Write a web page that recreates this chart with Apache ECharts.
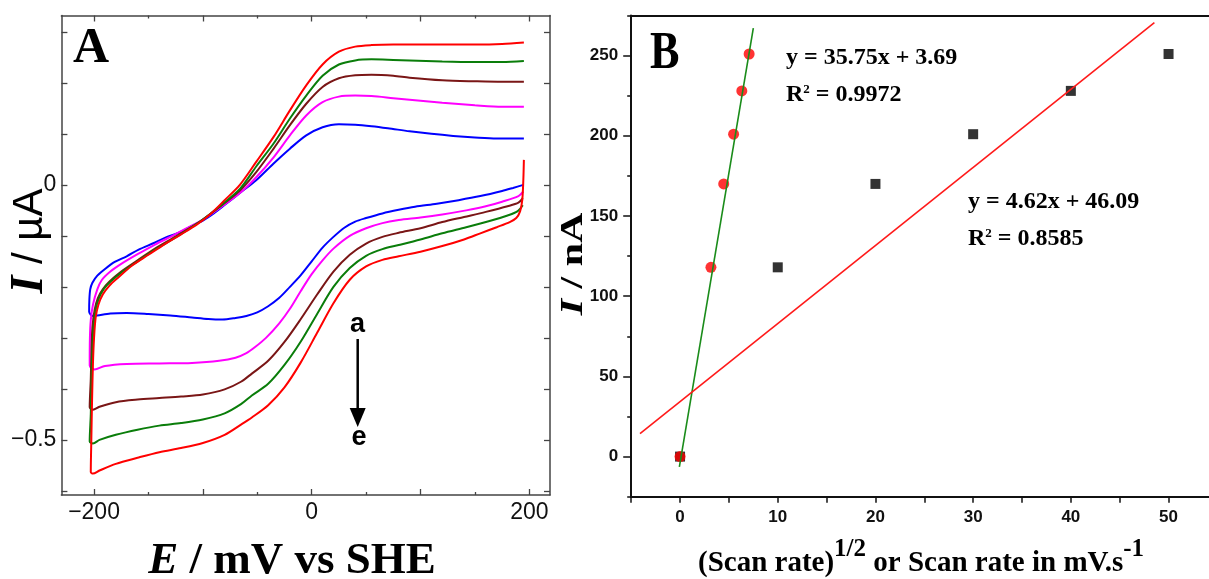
<!DOCTYPE html>
<html>
<head>
<meta charset="utf-8">
<script src="https://cdn.jsdelivr.net/npm/echarts@6/dist/echarts.min.js"></script>
<style>html,body{margin:0;padding:0;background:#fff;}#chart{width:1209px;height:579px;}</style>
</head>
<body>
<div id="chart"></div>
<script>
// ---------- Panel A : cyclic voltammograms (E in mV, I in µA) ----------
const curveA = [[194.5,0.000],[185,-0.006],[175,-0.012],[155,-0.022],[135,-0.030],[115,-0.037],[95,-0.043],[80,-0.049],[65,-0.056],[50,-0.065],[40,-0.072],[30,-0.084],[20,-0.102],[10,-0.123],[0,-0.150],[-10,-0.177],[-20,-0.200],[-30,-0.222],[-40,-0.238],[-50,-0.250],[-60,-0.257],[-70,-0.261],[-82,-0.264],[-95,-0.263],[-110,-0.260],[-130,-0.256],[-150,-0.253],[-170,-0.251],[-185,-0.252],[-197,-0.256],[-201,-0.257],
  [-204.5,-0.249],[-204.3,-0.225],[-203.5,-0.205],[-201.5,-0.192],[-197,-0.178],[-190,-0.165],[-181,-0.151],[-170,-0.140],[-159,-0.127],[-145,-0.114],[-135,-0.104],[-120,-0.092],[-107,-0.077],[-100,-0.070],[-90,-0.056],[-78,-0.036],[-66,-0.016],[-51,0.009],[-35,0.042],[-20,0.071],[-5,0.097],[10,0.113],[25,0.119],[40,0.118],[55,0.115],[70,0.111],[90,0.105],[110,0.100],[130,0.096],[150,0.093],[170,0.091],[195,0.091]];
const curveB = [[194.5,-0.013],[190,-0.022],[175,-0.033],[160,-0.042],[142,-0.050],[120,-0.058],[100,-0.064],[80,-0.069],[65,-0.075],[50,-0.085],[35,-0.100],[20,-0.125],[10,-0.148],[0,-0.175],[-10,-0.208],[-20,-0.243],[-30,-0.272],[-42,-0.300],[-52,-0.318],[-60,-0.330],[-70,-0.339],[-85,-0.345],[-110,-0.349],[-140,-0.350],[-170,-0.351],[-190,-0.355],[-199.5,-0.362],
  [-204,-0.354],[-203.8,-0.300],[-203,-0.265],[-201,-0.235],[-197,-0.205],[-193,-0.187],[-185,-0.170],[-175,-0.155],[-160,-0.136],[-144,-0.117],[-128,-0.100],[-113,-0.083],[-100,-0.068],[-83,-0.043],[-66,-0.016],[-51,0.015],[-35,0.054],[-20,0.097],[-5,0.136],[10,0.162],[25,0.173],[40,0.175],[55,0.174],[75,0.170],[90,0.167],[120,0.161],[150,0.156],[175,0.153],[195,0.153]];
const curveC = [[194,-0.026],[190,-0.035],[180,-0.042],[160,-0.053],[140,-0.063],[120,-0.073],[100,-0.085],[80,-0.094],[65,-0.102],[50,-0.115],[35,-0.137],[20,-0.170],[5,-0.215],[-10,-0.263],[-25,-0.308],[-40,-0.345],[-55,-0.370],[-65,-0.386],[-80,-0.401],[-100,-0.411],[-120,-0.415],[-140,-0.418],[-160,-0.421],[-180,-0.426],[-195,-0.435],[-201,-0.441],
  [-204,-0.436],[-203,-0.380],[-202.3,-0.320],[-201.5,-0.280],[-199.5,-0.245],[-196.5,-0.222],[-192,-0.205],[-186,-0.190],[-175,-0.170],[-160,-0.148],[-144,-0.125],[-128,-0.105],[-113,-0.086],[-100,-0.068],[-85,-0.044],[-66,-0.011],[-51,0.025],[-35,0.071],[-20,0.117],[-5,0.159],[10,0.192],[25,0.209],[40,0.215],[55,0.216],[75,0.214],[90,0.210],[120,0.205],[150,0.203],[175,0.202],[195,0.202]];
const curveD = [[194,-0.040],[189,-0.052],[180,-0.060],[165,-0.070],[142,-0.083],[120,-0.095],[100,-0.107],[80,-0.118],[65,-0.126],[50,-0.139],[35,-0.163],[20,-0.200],[5,-0.253],[-10,-0.307],[-25,-0.353],[-40,-0.390],[-55,-0.413],[-65,-0.430],[-80,-0.448],[-100,-0.460],[-120,-0.467],[-140,-0.472],[-160,-0.480],[-180,-0.490],[-195,-0.500],[-201,-0.507],
  [-204,-0.503],[-203,-0.450],[-202.3,-0.380],[-201.5,-0.320],[-200.5,-0.280],[-198.5,-0.245],[-195.5,-0.222],[-191,-0.204],[-185,-0.190],[-175,-0.172],[-160,-0.150],[-144,-0.127],[-128,-0.107],[-113,-0.087],[-100,-0.068],[-85,-0.043],[-66,-0.008],[-51,0.036],[-35,0.081],[-20,0.130],[-5,0.175],[10,0.214],[25,0.236],[40,0.244],[55,0.246],[75,0.245],[90,0.244],[120,0.242],[150,0.241],[175,0.241],[195,0.243]];
const curveE = [[195,0.049],[194.5,0.010],[193.5,-0.030],[191.5,-0.052],[188,-0.065],[182,-0.073],[170,-0.083],[155,-0.095],[140,-0.107],[120,-0.120],[100,-0.131],[80,-0.140],[65,-0.147],[50,-0.160],[35,-0.186],[20,-0.232],[5,-0.290],[-10,-0.348],[-25,-0.397],[-40,-0.432],[-55,-0.456],[-65,-0.470],[-80,-0.490],[-100,-0.506],[-120,-0.516],[-140,-0.524],[-160,-0.535],[-180,-0.547],[-195,-0.560],[-201,-0.566],
  [-203,-0.563],[-202.5,-0.500],[-201.8,-0.420],[-201,-0.350],[-200,-0.300],[-198.5,-0.260],[-196,-0.235],[-192,-0.215],[-186,-0.198],[-178,-0.182],[-165,-0.158],[-150,-0.137],[-135,-0.116],[-120,-0.097],[-105,-0.077],[-92,-0.055],[-80,-0.030],[-66,0.000],[-51,0.045],[-35,0.094],[-20,0.146],[-5,0.195],[10,0.236],[25,0.261],[40,0.271],[55,0.274],[75,0.275],[100,0.275],[125,0.275],[150,0.275],[175,0.276],[195,0.279]];
const curveNames = ['a', 'b', 'c', 'd', 'e'];
const curveColors = ['#0000ff', '#ff00ff', '#7a1616', '#0a7d0a', '#ff0000'];

const xMajorTicksA = [-200, -100, 0, 100, 200];
const xMinorTicksA = [-150, -50, 50, 150];
const xLabelsA = [-200, 0, 200];
const yTicksA = [-0.6, -0.5, -0.4, -0.3, -0.2, -0.1, 0, 0.1, 0.2, 0.3];
const yLabelsA = [-0.5, 0];

// ---------- Panel B : peak current vs scan rate ----------
const sqrtScanRate = [0, 3.16, 4.47, 5.48, 6.32, 7.07];
const scanRate = [0, 10, 20, 30, 40, 50];
const peakCurrent = [0, 118, 170, 201, 228, 251];
const fitSqrtX = [-0.07, 7.5];
const fitSqrtY = [-6.4, 267.2];
const fitLinX = [-4.1, 48.55];
const fitLinY = [14.3, 270.6];
const xTicksB = [-5, 0, 5, 10, 15, 20, 25, 30, 35, 40, 45, 50, 55];
const xLabelsB = [0, 10, 20, 30, 40, 50];
const yMajorB = [0, 50, 100, 150, 200, 250];
const yMinorB = [-25, 25, 75, 125, 175, 225, 275];

// ---------- fonts ----------
const SERIF = "'Liberation Serif', 'Times New Roman', serif";
const SANS = "'Liberation Sans', Arial, sans-serif";
const NARROW = "'Liberation Sans Narrow', 'Liberation Sans', Arial, sans-serif";
const fmtMinus = v => (v < 0 ? '\u2212' + String(Math.abs(v)) : String(v));

const chart = echarts.init(document.getElementById('chart'), null, { renderer: 'canvas' });

const frameA = { show: true, onZero: false, lineStyle: { color: '#444', width: 1.5 } };
const noLine = { show: false, onZero: false };
const frameB = { show: true, onZero: false, lineStyle: { color: '#111', width: 2 } };
const hideLbl = { show: false };
const tickA = { color: '#444', width: 1.3 };
const tickB = { color: '#111', width: 1.5 };

const option = {
  backgroundColor: '#ffffff',
  animation: false,
  grid: [
    { left: 61.4, top: 15.5, width: 488.6, height: 479.5, outerBoundsMode: 'none' },
    { left: 631.2, top: 15.5, width: 586.2, height: 481.2, outerBoundsMode: 'none' }
  ],
  xAxis: [
    { gridIndex: 0, type: 'value', position: 'bottom', min: -230, max: 219, axisLine: frameA,
      axisTick: { inside: true, length: 6, customValues: xMajorTicksA, lineStyle: tickA },
      axisLabel: { customValues: xLabelsA, formatter: fmtMinus, fontSize: 23, fontFamily: SANS, color: '#111', margin: 6 },
      splitLine: { show: false } },
    { gridIndex: 0, type: 'value', position: 'bottom', min: -230, max: 219, axisLine: noLine,
      axisTick: { inside: true, length: 3, customValues: xMinorTicksA, lineStyle: tickA },
      axisLabel: hideLbl, splitLine: { show: false } },
    { gridIndex: 0, type: 'value', position: 'top', min: -230, max: 219, axisLine: frameA,
      axisTick: { inside: true, length: 6, customValues: xMajorTicksA, lineStyle: tickA },
      axisLabel: hideLbl, splitLine: { show: false } },
    { gridIndex: 0, type: 'value', position: 'top', min: -230, max: 219, axisLine: noLine,
      axisTick: { inside: true, length: 3, customValues: xMinorTicksA, lineStyle: tickA },
      axisLabel: hideLbl, splitLine: { show: false } },
    { gridIndex: 1, type: 'value', position: 'bottom', min: -5, max: 55, axisLine: frameB,
      axisTick: { inside: false, length: 6, customValues: xTicksB, lineStyle: tickB },
      axisLabel: { customValues: xLabelsB, fontSize: 17, fontWeight: 'bold', fontFamily: NARROW, color: '#111', margin: 12 },
      splitLine: { show: false } },
    { gridIndex: 1, type: 'value', position: 'top', min: -5, max: 55, axisLine: frameB,
      axisTick: { show: false }, axisLabel: hideLbl, splitLine: { show: false } }
  ],
  yAxis: [
    { gridIndex: 0, type: 'value', position: 'left', min: -0.608, max: 0.332, axisLine: frameA,
      axisTick: { inside: true, length: 6, customValues: yTicksA, lineStyle: tickA },
      axisLabel: { customValues: yLabelsA, formatter: fmtMinus, fontSize: 23, fontFamily: SANS, color: '#111', margin: 5 },
      splitLine: { show: false } },
    { gridIndex: 0, type: 'value', position: 'right', min: -0.608, max: 0.332, axisLine: frameA,
      axisTick: { inside: true, length: 6, customValues: yTicksA, lineStyle: tickA },
      axisLabel: hideLbl, splitLine: { show: false } },
    { gridIndex: 1, type: 'value', position: 'left', min: -25, max: 275, axisLine: frameB,
      axisTick: { inside: false, length: 8, customValues: yMajorB, lineStyle: tickB },
      axisLabel: { customValues: yMajorB, fontSize: 17, fontWeight: 'bold', fontFamily: NARROW, color: '#111', margin: 13 },
      splitLine: { show: false } },
    { gridIndex: 1, type: 'value', position: 'left', min: -25, max: 275, axisLine: noLine,
      axisTick: { inside: false, length: 4, customValues: yMinorB, lineStyle: tickB },
      axisLabel: hideLbl, splitLine: { show: false } }
  ],
  series: [],
  graphic: []
};

const curves = [curveA, curveB, curveC, curveD, curveE];
curves.forEach((c, i) => {
  option.series.push({
    name: curveNames[i], type: 'line', xAxisIndex: 0, yAxisIndex: 0,
    data: c, showSymbol: false, smooth: 0.3, clip: true,
    lineStyle: { color: curveColors[i], width: 2 }, z: 2 + i
  });
});

option.series.push({
  name: 'scan rate', type: 'scatter', xAxisIndex: 4, yAxisIndex: 2,
  data: scanRate.map((x, i) => [x, peakCurrent[i]]),
  symbol: 'rect', symbolSize: 10, itemStyle: { color: '#000' }, z: 3
});
option.series.push({
  name: 'sqrt scan rate', type: 'scatter', xAxisIndex: 4, yAxisIndex: 2,
  data: sqrtScanRate.map((x, i) => [x, peakCurrent[i]]),
  symbol: 'circle', symbolSize: 11, itemStyle: { color: '#ff0000' }, z: 4
});
option.series.push({
  name: 'fit sqrt', type: 'line', xAxisIndex: 4, yAxisIndex: 2,
  data: fitSqrtX.map((x, i) => [x, fitSqrtY[i]]), showSymbol: false,
  lineStyle: { color: '#1a8c1a', width: 1.6 }, z: 5
});
option.series.push({
  name: 'fit linear', type: 'line', xAxisIndex: 4, yAxisIndex: 2,
  data: fitLinX.map((x, i) => [x, fitLinY[i]]), showSymbol: false,
  lineStyle: { color: '#ff1a1a', width: 1.6 }, z: 5
});

function txt(x, y, style, extra) {
  return Object.assign({ type: 'text', x: x, y: y, silent: true, z: 100,
    style: Object.assign({ fill: '#000' }, style) }, extra || {});
}

option.graphic = [
  // panel letters
  txt(73, 49, { text: 'A', fontSize: 50, fontWeight: 'bold', fontFamily: SERIF, align: 'left', verticalAlign: 'middle' }),
  txt(650, 55, { text: 'B', fontSize: 52, fontWeight: 'bold', fontFamily: SERIF, align: 'left', verticalAlign: 'middle' }, { scaleX: 0.85 }),
  // axis titles panel A
  txt(292, 561, {
    text: '{i|E}{n| / mV vs SHE}', align: 'center', verticalAlign: 'middle',
    rich: { i: { fontSize: 45, fontWeight: 'bold', fontStyle: 'italic', fontFamily: SERIF },
            n: { fontSize: 45, fontWeight: 'bold', fontFamily: SERIF } }
  }),
  txt(30, 241, {
    text: '{i|I}{n| / µA}', align: 'center', verticalAlign: 'middle',
    rich: { i: { fontSize: 46, fontWeight: 'bold', fontStyle: 'italic', fontFamily: SERIF },
            n: { fontSize: 42, fontFamily: SANS } }
  }, { rotation: Math.PI / 2 }),
  // a -> e annotation
  txt(357.5, 325, { text: 'a', fontSize: 27, fontWeight: 'bold', fontFamily: SANS, align: 'center', verticalAlign: 'middle' }),
  { type: 'line', silent: true, z: 100, shape: { x1: 357.7, y1: 339, x2: 357.7, y2: 411 }, style: { stroke: '#000', lineWidth: 2.5 } },
  { type: 'polygon', silent: true, z: 100, shape: { points: [[349.7, 408], [365.7, 408], [357.7, 427]] }, style: { fill: '#000' } },
  txt(359, 438, { text: 'e', fontSize: 27, fontWeight: 'bold', fontFamily: SANS, align: 'center', verticalAlign: 'middle' }),
  // panel B titles
  txt(574, 264, {
    text: '{i|I}{n| / nA}', align: 'center', verticalAlign: 'middle',
    rich: { i: { fontSize: 42, fontWeight: 'bold', fontStyle: 'italic', fontFamily: SERIF },
            n: { fontSize: 42, fontWeight: 'bold', fontFamily: SERIF } }
  }, { rotation: Math.PI / 2, scaleY: 0.75 }),
  txt(698, 578, {
    text: '{m|(Scan rate)}{s|1/2}{m| or Scan rate in mV.s}{s|-1}', align: 'left', verticalAlign: 'bottom',
    rich: { m: { fontSize: 29, fontWeight: 'bold', fontFamily: SERIF, verticalAlign: 'bottom' },
            s: { fontSize: 25, fontWeight: 'bold', fontFamily: SERIF, verticalAlign: 'top', padding: [0, 0, 16, 0] } }
  }),
  // equations
  txt(786, 58, { text: 'y = 35.75x + 3.69', fontSize: 24, fontWeight: 'bold', fontFamily: SERIF, align: 'left', verticalAlign: 'middle' }),
  txt(786, 95, {
    text: '{m|R}{s|2}{m| = 0.9972}', align: 'left', verticalAlign: 'middle',
    rich: { m: { fontSize: 24, fontWeight: 'bold', fontFamily: SERIF, verticalAlign: 'bottom' },
            s: { fontSize: 13, fontWeight: 'bold', fontFamily: SERIF, verticalAlign: 'top', padding: [0, 0, 10, 0] } }
  }),
  txt(968, 202, { text: 'y = 4.62x + 46.09', fontSize: 24, fontWeight: 'bold', fontFamily: SERIF, align: 'left', verticalAlign: 'middle' }),
  txt(968, 239, {
    text: '{m|R}{s|2}{m| = 0.8585}', align: 'left', verticalAlign: 'middle',
    rich: { m: { fontSize: 24, fontWeight: 'bold', fontFamily: SERIF, verticalAlign: 'bottom' },
            s: { fontSize: 13, fontWeight: 'bold', fontFamily: SERIF, verticalAlign: 'top', padding: [0, 0, 10, 0] } }
  })
];

chart.setOption(option);
</script>
</body>
</html>
